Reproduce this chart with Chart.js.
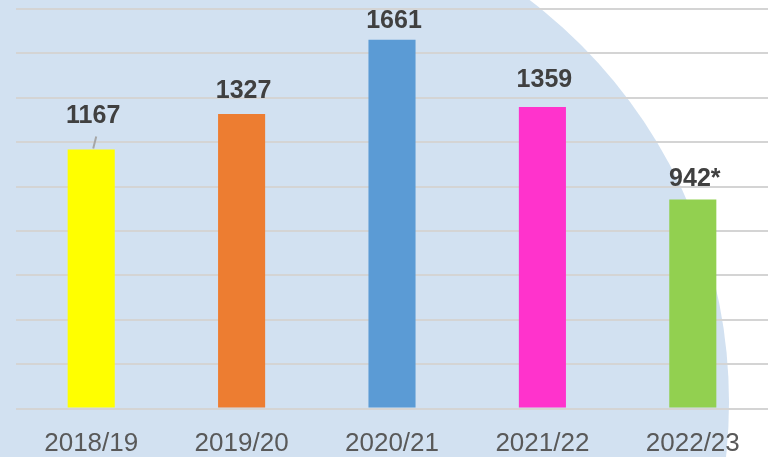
<!DOCTYPE html>
<html>
<head>
<meta charset="utf-8">
<script src="https://cdn.jsdelivr.net/npm/chart.js@4/dist/chart.umd.min.js"></script>
<style>
  html, body { margin: 0; padding: 0; background: #ffffff; }
  #wrap { width: 772px; height: 457px; }
</style>
</head>
<body>
<div id="wrap"><canvas id="years-chart" width="772" height="457"></canvas></div>
<script>
// Values
const years = ["2018/19", "2019/20", "2020/21", "2021/22", "2022/23"];
const counts = [1167, 1327, 1661, 1359, 942];
const countLabels = ["1167", "1327", "1661", "1359", "942*"];
const barColors = ["#FFFF00", "#ED7D31", "#5B9BD5", "#FF33CC", "#92D050"];
const yTicksMax = 1800;
const yTicksStep = 200;

// how far (px) each label baseline sits above its bar, labels were nudged by hand
const labelGaps = [26, 16, 12, 20, 13];

// Big pale blue disc behind the plot
const backdrop = {
  id: "backdrop",
  beforeDraw(chart) {
    const ctx = chart.ctx;
    ctx.save();
    ctx.fillStyle = "#ffffff";
    ctx.fillRect(0, 0, chart.width, chart.height);
    ctx.fillStyle = "#D2E1F1";
    ctx.beginPath();
    ctx.arc(224, 402, 505, 0, Math.PI * 2);
    ctx.fill();
    ctx.restore();
  },
};

// Value labels over the bars
const barLabels = {
  id: "barLabels",
  afterDatasetsDraw(chart) {
    const ctx = chart.ctx;
    const meta = chart.getDatasetMeta(0);
    ctx.save();
    ctx.font = "bold 25px 'Liberation Sans', Arial, sans-serif";
    ctx.fillStyle = "#404040";
    ctx.textAlign = "center";
    ctx.textBaseline = "alphabetic";
    meta.data.forEach((bar, i) => {
      const y = bar.y - labelGaps[i];
      ctx.fillText(countLabels[i], bar.x + 2, y);
      // first label got dragged up, so Excel drew a leader line
      if (i === 0) {
        ctx.strokeStyle = "#A6A6A6";
        ctx.lineWidth = 2;
        ctx.beginPath();
        ctx.moveTo(bar.x + 2, bar.y - 1);
        ctx.lineTo(bar.x + 5, y + 13);
        ctx.stroke();
      }
    });
    ctx.restore();
  },
};

new Chart(document.getElementById("years-chart"), {
  type: "bar",
  data: {
    labels: years,
    datasets: [
      {
        data: counts,
        backgroundColor: barColors,
        borderWidth: 0,
        categoryPercentage: 1,
        barPercentage: 0.313,
      },
    ],
  },
  options: {
    responsive: false,
    animation: false,
    events: [],
    layout: {
      padding: { left: 16, right: 4, top: 9, bottom: 0 },
    },
    plugins: {
      legend: { display: false },
      tooltip: { enabled: false },
    },
    scales: {
      x: {
        grid: { display: false, drawTicks: false },
        border: { display: false },
        ticks: {
          color: "#595959",
          font: { size: 26, family: "'Liberation Sans', Arial, sans-serif" },
          padding: 20,
          maxRotation: 0,
        },
        afterFit: (scale) => {
          scale.height = 48.5;
        },
      },
      y: {
        min: 0,
        max: yTicksMax,
        ticks: { display: false, stepSize: yTicksStep },
        grid: { color: "#D4D4D4", lineWidth: 2, drawTicks: false },
        border: { display: false },
        afterFit: (scale) => {
          scale.width = 0;
        },
      },
    },
  },
  plugins: [backdrop, barLabels],
});
</script>
</body>
</html>
